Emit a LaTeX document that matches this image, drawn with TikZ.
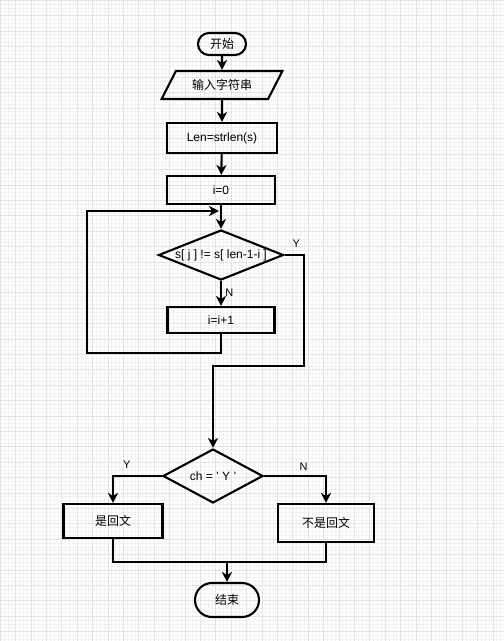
\documentclass[tikz,border=0pt]{standalone}
\usepackage{fontspec}
\setmainfont{Liberation Sans}
\newfontfamily\cjk{Noto Sans CJK SC}
\usetikzlibrary{arrows.meta,positioning,shapes.geometric,shapes.misc}

\begin{document}
\begin{tikzpicture}[x=1pt, y=-1pt,
    font=\fontsize{12}{14}\selectfont,
    proc/.style={rectangle, draw, line width=2.1pt, inner sep=0pt},
    term/.style={rounded rectangle, draw, line width=2.1pt, inner sep=0pt},
    io/.style={trapezium, trapezium left angle=50, trapezium right angle=130,
               trapezium stretches=true, draw, line width=2.1pt, inner sep=0pt},
    cond/.style={diamond, draw, line width=2.1pt, inner sep=0pt, aspect=2.5},
    flow/.style={line width=2.1pt, -{Stealth[length=10pt,width=10pt,inset=3pt]}},
    link/.style={line width=2.1pt},
    lbl/.style={font=\fontsize{11}{13}\selectfont}
  ]
  % background grid
  \useasboundingbox (0,0) rectangle (504,641);
  \draw[black!5, line width=0.4pt, step=3.85pt] (0,0) grid (504,641);
  \draw[black!11, line width=0.6pt, step=15.4pt] (0,0) grid (504,641);

  \node[term, minimum width=48, minimum height=22] (start) at (222,44) {\cjk 开始};
  \node[io, minimum width=121, minimum height=28] (input) at (222,85) {\cjk 输入字符串};
  \node[proc, minimum width=110, minimum height=30] (len) at (222,138) {Len=strlen(s)};
  \node[proc, minimum width=108, minimum height=28] (init) at (221,190) {i=0};
  \node[cond, minimum width=125, minimum height=50] (cmp) at (221,255) {s[ j ] != s[ len-1-i ]};
  \node[proc, minimum width=107, minimum height=26] (inc) at (221,320) {i=i+1};
  \node[cond, minimum width=100, minimum height=54] (chk) at (213,476) {ch = ' Y '};
  \node[proc, minimum width=99, minimum height=34] (yes) at (113,521) {\cjk 是回文};
  \node[proc, minimum width=96, minimum height=38] (no) at (326,523) {\cjk 不是回文};
  \node[term, minimum width=64, minimum height=34] (stop) at (227,600) {\cjk 结束};

  \coordinate (back) at (219,211);
  \coordinate (join) at (227,562);

  \draw[flow] (start) -- (input);
  \draw[flow] (input) -- (len);
  \draw[flow] (len) -- (init);
  \draw[flow] (init) -- (cmp);
  \draw[flow] (cmp) -- node[lbl, right, pos=0.45] {N} (inc);
  \draw[flow] (inc.south) -- ++(0,19) -| (87,211) -- (back);
  \draw[flow] (cmp.east) -| node[lbl, above, pos=0.3, yshift=3pt] {Y} (304,366) -| (chk.north);
  \draw[flow] (chk.west) -| node[lbl, above, pos=0.36, yshift=3pt] {Y} (yes.north);
  \draw[flow] (chk.east) -| node[lbl, above, pos=0.32, yshift=1pt] {N} (no.north);
  \draw[link] (yes.south) |- (join);
  \draw[link] (no.south) |- (join);
  \draw[flow] (join) -- (stop);
\end{tikzpicture}
\end{document}
